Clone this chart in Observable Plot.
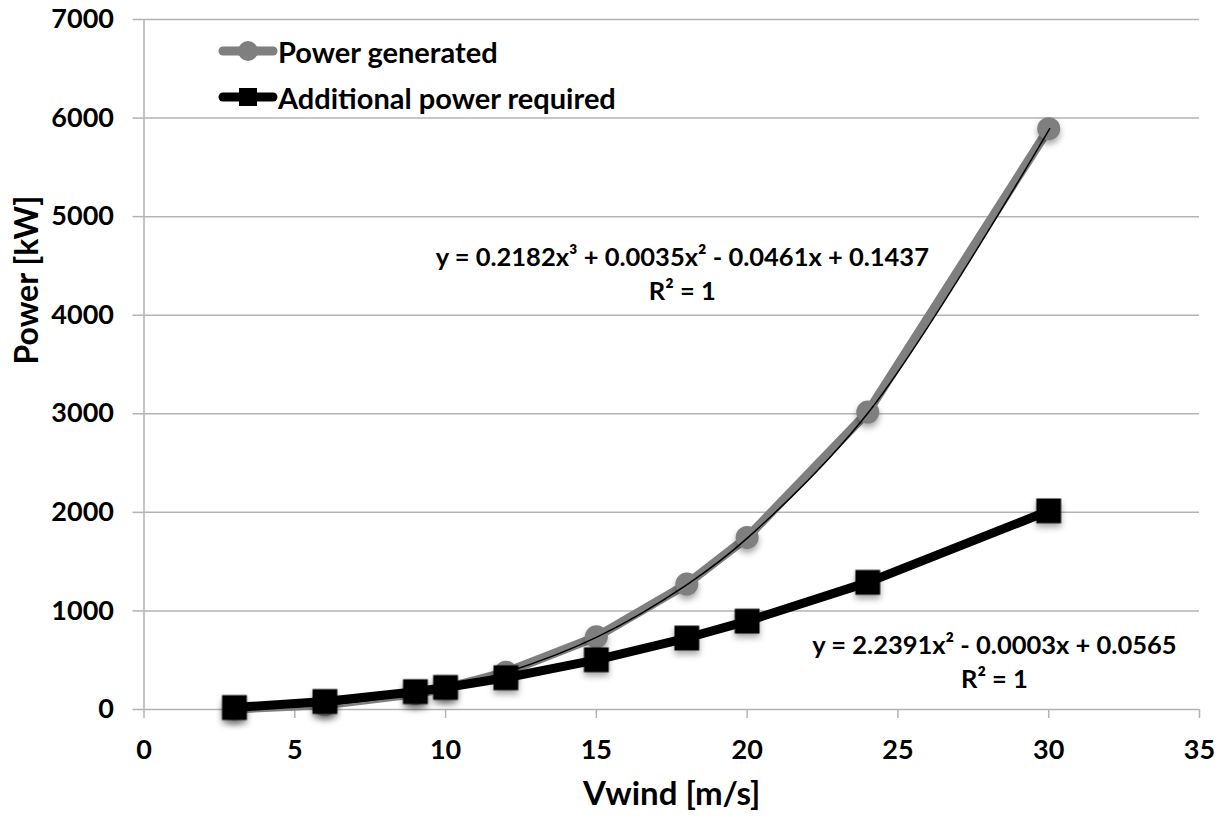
<!DOCTYPE html>
<html>
<head>
<meta charset="utf-8">
<script src="https://cdn.jsdelivr.net/npm/d3@7"></script>
<script src="https://cdn.jsdelivr.net/npm/@observablehq/plot@0.6"></script>
<style>
  html, body { margin: 0; padding: 0; background: #fff; }
  #wrap { position: relative; width: 1223px; height: 818px; font-family: Lato, "Open Sans", sans-serif; font-weight: bold; }
  #wrap svg.plot { display: block; }
  svg g[aria-label="dot"] { filter: drop-shadow(0px 4px 3px rgba(0,0,0,0.35)); }
  #legend { position: absolute; left: 218px; top: 28px; }
  .row { display: flex; align-items: center; height: 46px; font-size: 29px; color: #000; }
  .row svg { display: block; }
</style>
</head>
<body>
<div id="wrap">
  <div id="legend"></div>
</div>
<script>
// ---- data ----
const windSpeed = [3, 6, 9, 10, 12, 15, 18, 20, 24, 30];
const powerGenerated = [6, 47, 160, 218, 378, 737, 1273, 1746, 3018, 5892];
const additionalPower = [20, 81, 181, 224, 322, 504, 725, 896, 1290, 2015];
const xTicks = [0, 5, 10, 15, 20, 25, 30, 35];
const yTicks = [0, 1000, 2000, 3000, 4000, 5000, 6000, 7000];
const seriesNames = ["Power generated", "Additional power required"];
const seriesColors = ["#7f7f7f", "#000000"];
const equationTexts = [
  "y = 0.2182x\u00B3 + 0.0035x\u00B2 - 0.0461x + 0.1437\nR\u00B2 = 1",
  "y = 2.2391x\u00B2 - 0.0003x + 0.0565\nR\u00B2 = 1"
];
const equationX = [17.85, 28.2];
const equationY = [4440, 500];
const xTitle = "Vwind [m/s]";
const yTitle = "Power [kW]";

const gen = windSpeed.map((x, i) => ({x, y: powerGenerated[i]}));
const add = windSpeed.map((x, i) => ({x, y: additionalPower[i]}));
const eqs = equationTexts.map((t, i) => ({x: equationX[i], y: equationY[i], t}));

const grid = "#b3b3b3";

const chart = Plot.plot({
  width: 1223,
  height: 818,
  marginLeft: 143.5,
  marginRight: 24,
  marginTop: 19,
  marginBottom: 109,
  x: {domain: [0, 35]},
  y: {domain: [0, 7000]},
  style: {fontFamily: "Lato, 'Open Sans', sans-serif", fontWeight: "bold", color: "#000", background: "#fff"},
  marks: [
    Plot.gridY(yTicks, {stroke: grid, strokeOpacity: 1, strokeWidth: 1.5}),
    Plot.ruleX([0], {stroke: grid, strokeWidth: 1.5}),
    Plot.axisY({ticks: yTicks, tickSize: 11, tickPadding: 19, fontSize: 27, tickFormat: "d", label: null, stroke: grid, strokeWidth: 1.5, strokeOpacity: 1, fill: "#000"}),
    Plot.axisX({ticks: xTicks, tickSize: 9, tickPadding: 21, fontSize: 27, tickFormat: "d", label: null, stroke: grid, strokeWidth: 1.5, strokeOpacity: 1, fill: "#000"}),
    Plot.text([yTitle], {frameAnchor: "left", dx: -116.5, rotate: -90, fontSize: 32, fontWeight: "bold", fill: "#000"}),
    Plot.text([xTitle], {frameAnchor: "bottom", dy: 95, fontSize: 33, fontWeight: "bold", fill: "#000"}),
    // Power generated
    Plot.line(gen, {x: "x", y: "y", stroke: seriesColors[0], strokeWidth: 9, strokeLinejoin: "round", strokeLinecap: "round"}),
    Plot.dot(gen, {x: "x", y: "y", r: 11.5, fill: seriesColors[0], stroke: "none", symbol: "circle"}),
    Plot.line(gen, {x: "x", y: "y", stroke: "#000", strokeWidth: 1.5, curve: "catmull-rom", dx: 1}),
    // Additional power required
    Plot.line(add, {x: "x", y: "y", stroke: seriesColors[1], strokeWidth: 9, strokeLinejoin: "round", strokeLinecap: "round"}),
    Plot.dot(add, {x: "x", y: "y", r: 14, fill: seriesColors[1], stroke: "none", symbol: "square"}),
    // trendline equations
    Plot.text(eqs, {x: "x", y: "y", text: "t", fontSize: 25.5, lineHeight: 1.35, fontWeight: "bold", fill: "#000"})
  ]
});
chart.classList.add("plot");
document.getElementById("wrap").appendChild(chart);

// legend
const legend = document.getElementById("legend");
seriesNames.forEach((name, i) => {
  const row = document.createElement("div");
  row.className = "row";
  const marker = i === 0
    ? `<circle cx="30" cy="15" r="10" fill="${seriesColors[i]}"/>`
    : `<rect x="21" y="6" width="18" height="18" fill="${seriesColors[i]}"/>`;
  row.innerHTML = `<svg width="60" height="30"><line x1="5" y1="15" x2="55" y2="15" stroke="${seriesColors[i]}" stroke-width="9" stroke-linecap="round"/>${marker}</svg><span>${name}</span>`;
  legend.appendChild(row);
});
</script>
</body>
</html>
